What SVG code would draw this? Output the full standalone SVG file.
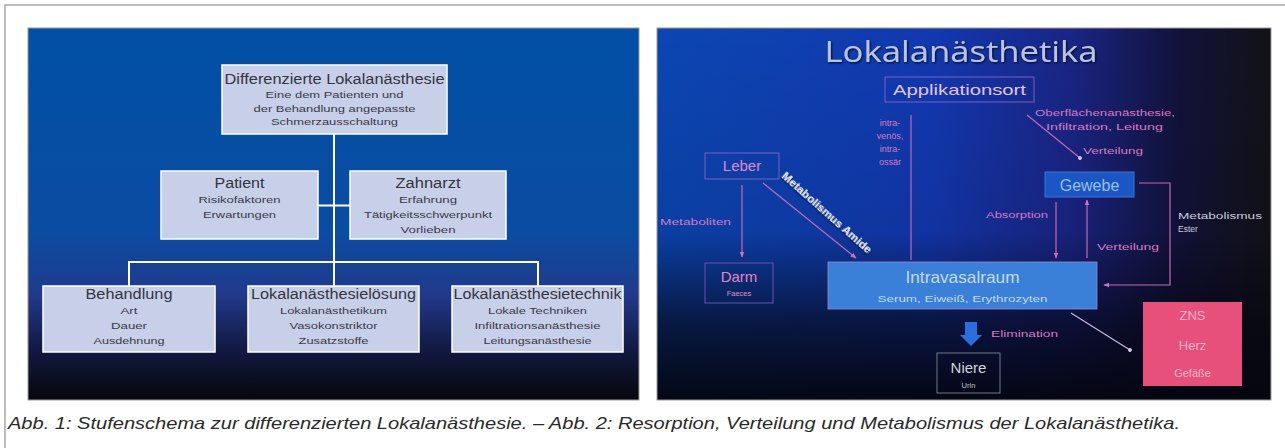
<svg xmlns="http://www.w3.org/2000/svg" width="1285" height="448" viewBox="0 0 1285 448">
<defs>
<linearGradient id="gL" x1="0" y1="0" x2="0" y2="1">
<stop offset="0" stop-color="#0050a6"/>
<stop offset="0.55" stop-color="#0a4ca2"/>
<stop offset="0.72" stop-color="#22398a"/>
<stop offset="0.86" stop-color="#121a44"/>
<stop offset="1" stop-color="#07070c"/>
</linearGradient>
<linearGradient id="gRh" x1="0" y1="0" x2="1" y2="0">
<stop offset="0" stop-color="#0b46b2"/>
<stop offset="0.45" stop-color="#1238b0"/>
<stop offset="0.68" stop-color="#1a2483"/>
<stop offset="0.85" stop-color="#12123a"/>
<stop offset="1" stop-color="#121216"/>
</linearGradient>
<linearGradient id="gRv" x1="0" y1="0" x2="0" y2="1">
<stop offset="0" stop-color="#050510" stop-opacity="0"/>
<stop offset="0.55" stop-color="#050510" stop-opacity="0.1"/>
<stop offset="0.8" stop-color="#050510" stop-opacity="0.7"/>
<stop offset="1" stop-color="#050510" stop-opacity="0.97"/>
</linearGradient>
<marker id="ah" viewBox="0 0 10 10" refX="9" refY="5" markerWidth="5" markerHeight="5" orient="auto">
<path d="M0,1 L10,5 L0,9 z" fill="#d070b8"/>
</marker>
<marker id="dot" viewBox="0 0 10 10" refX="5" refY="5" markerWidth="4" markerHeight="4" orient="auto">
<circle cx="5" cy="5" r="4" fill="#d8c8e8"/>
</marker>
<filter id="sh" x="-10%" y="-30%" width="120%" height="160%">
<feDropShadow dx="1" dy="1" stdDeviation="0.8" flood-color="#000018" flood-opacity="0.9"/>
</filter>
<style>
.box{fill:#c8cfe8;stroke:#ffffff;stroke-width:1.5}
.t1{font-family:"Liberation Sans",Arial,sans-serif;font-size:14px;fill:#34343f;text-anchor:middle}
.t2{font-family:"Liberation Sans",Arial,sans-serif;font-size:9.5px;fill:#3a3a48;text-anchor:middle}
.wl{stroke:#ffffff;stroke-width:2;fill:none}
.pl{stroke:#c868b0;stroke-width:1.2;fill:none}
.pk{font-family:"Liberation Sans",Arial,sans-serif;fill:#d878c0}
.cap{font-family:"Liberation Sans",Arial,sans-serif;font-style:italic;font-size:17px;fill:#2a2a2a}
</style>
</defs>

<rect x="0" y="0" width="1285" height="448" fill="#ffffff"/>
<path d="M5,448 V5 H1285" fill="none" stroke="#a8a8a8" stroke-width="1.5"/>

<!-- Left panel -->
<g id="panel-left">
<rect x="28" y="28" width="611" height="372" fill="url(#gL)" stroke="#9a9aa0" stroke-width="1"/>
</g>
<g id="connectors-left">
<path class="wl" d="M334,134 V286"/>
<path class="wl" d="M318,205.5 H350"/>
<path class="wl" d="M129,286 V262 H538 V286"/>
</g>
<g id="node-top">
<rect class="box" x="222" y="65" width="225" height="69"/>
<text class="t1" x="334.5" y="84" textLength="220" lengthAdjust="spacingAndGlyphs">Differenzierte Lokalanästhesie</text>
<text class="t2" x="334.5" y="98" textLength="138" lengthAdjust="spacingAndGlyphs">Eine dem Patienten und</text>
<text class="t2" x="334.5" y="112" textLength="162" lengthAdjust="spacingAndGlyphs">der Behandlung angepasste</text>
<text class="t2" x="334.5" y="125" textLength="127" lengthAdjust="spacingAndGlyphs">Schmerzausschaltung</text>
</g>
<g id="node-patient">
<rect class="box" x="161" y="171" width="157" height="68"/>
<text class="t1" x="239.5" y="188" textLength="50" lengthAdjust="spacingAndGlyphs">Patient</text>
<text class="t2" x="239.5" y="203" textLength="82" lengthAdjust="spacingAndGlyphs">Risikofaktoren</text>
<text class="t2" x="239.5" y="218" textLength="73" lengthAdjust="spacingAndGlyphs">Erwartungen</text>
</g>
<g id="node-zahnarzt">
<rect class="box" x="350" y="171" width="156" height="68"/>
<text class="t1" x="428" y="188" textLength="65" lengthAdjust="spacingAndGlyphs">Zahnarzt</text>
<text class="t2" x="428" y="203" textLength="58" lengthAdjust="spacingAndGlyphs">Erfahrung</text>
<text class="t2" x="428" y="218" textLength="128" lengthAdjust="spacingAndGlyphs">Tätigkeitsschwerpunkt</text>
<text class="t2" x="428" y="233" textLength="55" lengthAdjust="spacingAndGlyphs">Vorlieben</text>
</g>
<g id="node-behandlung">
<rect class="box" x="43" y="286" width="172" height="66"/>
<text class="t1" x="129" y="299" textLength="87" lengthAdjust="spacingAndGlyphs">Behandlung</text>
<text class="t2" x="129" y="314" textLength="17" lengthAdjust="spacingAndGlyphs">Art</text>
<text class="t2" x="129" y="329" textLength="36" lengthAdjust="spacingAndGlyphs">Dauer</text>
<text class="t2" x="129" y="344" textLength="71" lengthAdjust="spacingAndGlyphs">Ausdehnung</text>
</g>
<g id="node-loesung">
<rect class="box" x="248" y="286" width="171" height="66"/>
<text class="t1" x="333.5" y="299" textLength="165" lengthAdjust="spacingAndGlyphs">Lokalanästhesielösung</text>
<text class="t2" x="333.5" y="314" textLength="107" lengthAdjust="spacingAndGlyphs">Lokalanästhetikum</text>
<text class="t2" x="333.5" y="329" textLength="88" lengthAdjust="spacingAndGlyphs">Vasokonstriktor</text>
<text class="t2" x="333.5" y="344" textLength="70" lengthAdjust="spacingAndGlyphs">Zusatzstoffe</text>
</g>
<g id="node-technik">
<rect class="box" x="452" y="286" width="171" height="66"/>
<text class="t1" x="537.5" y="299" textLength="168" lengthAdjust="spacingAndGlyphs">Lokalanästhesietechnik</text>
<text class="t2" x="537.5" y="314" textLength="99" lengthAdjust="spacingAndGlyphs">Lokale Techniken</text>
<text class="t2" x="537.5" y="329" textLength="126" lengthAdjust="spacingAndGlyphs">Infiltrationsanästhesie</text>
<text class="t2" x="537.5" y="344" textLength="108" lengthAdjust="spacingAndGlyphs">Leitungsanästhesie</text>
</g>

<!-- Right panel -->
<g id="panel-right">
<rect x="657" y="28" width="614" height="372" fill="url(#gRh)"/>
<rect x="657" y="28" width="614" height="372" fill="url(#gRv)" stroke="#9a9aa0" stroke-width="1"/>
<text x="961" y="62" font-family="'Open Sans','Liberation Sans',sans-serif" font-size="30" fill="#b8c4e0" text-anchor="middle" filter="url(#sh)" textLength="273" lengthAdjust="spacingAndGlyphs">Lokalanästhetika</text>
</g>

<g id="connectors-right">
<path class="pl" d="M911,115 V260"/>
<path class="pl" d="M1027,115 L1080,158" marker-end="url(#dot)"/>
<path class="pl" d="M742,185 V257" marker-end="url(#ah)"/>
<path class="pl" d="M763,183 L856,258" marker-end="url(#ah)"/>
<path class="pl" d="M1056,202 V258" marker-end="url(#ah)"/>
<path class="pl" d="M1087,258 V200" marker-end="url(#ah)"/>
<path class="pl" d="M1139,183 H1170 V285 H1104" marker-end="url(#ah)"/>
<path d="M1071,313 L1130,350" stroke="#c8b8d8" stroke-width="1.2" fill="none" marker-end="url(#dot)"/>
<path d="M965,322 H977 V335 H982 L971,346 L960,335 H965 Z" fill="#2a6ee0"/>
</g>

<g id="labels-right">
<text class="pk" font-size="9" text-anchor="middle" x="890" y="126">intra-</text>
<text class="pk" font-size="9" text-anchor="middle" x="890" y="139">venös,</text>
<text class="pk" font-size="9" text-anchor="middle" x="890" y="152">intra-</text>
<text class="pk" font-size="9" text-anchor="middle" x="890" y="165">ossär</text>
<text class="pk" font-size="8.5" x="1035" y="116" textLength="140" lengthAdjust="spacingAndGlyphs">Oberflächenanästhesie,</text>
<text class="pk" font-size="8.5" x="1046" y="130" textLength="117" lengthAdjust="spacingAndGlyphs">Infiltration, Leitung</text>
<text class="pk" font-size="8.5" x="1083" y="154" textLength="60" lengthAdjust="spacingAndGlyphs">Verteilung</text>
<text class="pk" font-size="8.5" x="660" y="225" textLength="71" lengthAdjust="spacingAndGlyphs">Metaboliten</text>
<text class="pk" font-size="8.5" x="986" y="218" textLength="62" lengthAdjust="spacingAndGlyphs">Absorption</text>
<text class="pk" font-size="8.5" x="1097" y="250" textLength="62" lengthAdjust="spacingAndGlyphs">Verteilung</text>
<text font-family="'Liberation Sans',Arial,sans-serif" font-size="8.5" fill="#c8cedc" x="1178" y="219" textLength="84" lengthAdjust="spacingAndGlyphs">Metabolismus</text>
<text font-family="'Liberation Sans',Arial,sans-serif" font-size="8.5" fill="#c8cedc" x="1178" y="232">Ester</text>
<text class="pk" font-size="8.5" x="991" y="337" textLength="67" lengthAdjust="spacingAndGlyphs">Elimination</text>
<text font-family="'Liberation Sans',Arial,sans-serif" font-size="10.5" font-weight="bold" fill="#eceefa" filter="url(#sh)" transform="translate(781,177) rotate(41.6)" textLength="116" lengthAdjust="spacingAndGlyphs">Metabolismus Amide</text>
</g>

<g id="node-applikationsort">
<rect x="885" y="77" width="149" height="25" fill="none" stroke="#7a5ec0" stroke-width="1"/>
<text class="pk" font-size="15" text-anchor="middle" x="959.5" y="95" textLength="133" lengthAdjust="spacingAndGlyphs" style="fill:#e2c4f0">Applikationsort</text>
</g>
<g id="node-leber">
<rect x="705" y="153" width="74" height="26" fill="none" stroke="#7a5ec0" stroke-width="1"/>
<text class="pk" font-size="15" text-anchor="middle" x="742" y="171" style="fill:#e286c8">Leber</text>
</g>
<g id="node-darm">
<rect x="705" y="263" width="68" height="40" fill="none" stroke="#6a50b0" stroke-width="1"/>
<text class="pk" font-size="15" text-anchor="middle" x="739" y="282" style="fill:#e286c8">Darm</text>
<text class="pk" font-size="7.5" text-anchor="middle" x="739" y="296" style="fill:#e286c8">Faeces</text>
</g>
<g id="node-gewebe">
<rect x="1045" y="172" width="89" height="25" fill="#1a56c4" stroke="#3c72d6" stroke-width="1"/>
<text font-family="'Liberation Sans',Arial,sans-serif" font-size="16" fill="#98bef0" text-anchor="middle" x="1089.5" y="190.5">Gewebe</text>
</g>
<g id="node-intravasalraum">
<rect x="828" y="262" width="269" height="47" fill="#3a7fd8" stroke="#9a8ad0" stroke-width="0.8"/>
<text font-family="'Liberation Sans',Arial,sans-serif" font-size="17" fill="#c4d8f6" text-anchor="middle" x="962.5" y="283" textLength="114" lengthAdjust="spacingAndGlyphs">Intravasalraum</text>
<text font-family="'Liberation Sans',Arial,sans-serif" font-size="8.5" fill="#c4d8f6" text-anchor="middle" x="962.5" y="302" textLength="170" lengthAdjust="spacingAndGlyphs">Serum, Eiweiß, Erythrozyten</text>
</g>
<g id="node-niere">
<rect x="937" y="353" width="63" height="40" fill="none" stroke="#707888" stroke-width="1"/>
<text font-family="'Liberation Sans',Arial,sans-serif" font-size="15" fill="#d0d4dc" text-anchor="middle" x="968.5" y="373">Niere</text>
<text font-family="'Liberation Sans',Arial,sans-serif" font-size="7.5" fill="#c0c4cc" text-anchor="middle" x="968.5" y="388">Urin</text>
</g>
<g id="node-organe">
<rect x="1143" y="302" width="99" height="84" fill="#e8507c"/>
<text font-family="'Liberation Sans',Arial,sans-serif" font-size="13" fill="#f8b4cc" text-anchor="middle" x="1192.5" y="320">ZNS</text>
<text font-family="'Liberation Sans',Arial,sans-serif" font-size="13" fill="#f8b4cc" text-anchor="middle" x="1192.5" y="350">Herz</text>
<text font-family="'Liberation Sans',Arial,sans-serif" font-size="11" fill="#f8b4cc" text-anchor="middle" x="1192.5" y="377">Gefäße</text>
</g>

<text class="cap" x="8" y="429" textLength="1172" lengthAdjust="spacingAndGlyphs">Abb. 1: Stufenschema zur differenzierten Lokalanästhesie. – Abb. 2: Resorption, Verteilung und Metabolismus der Lokalanästhetika.</text>
</svg>
